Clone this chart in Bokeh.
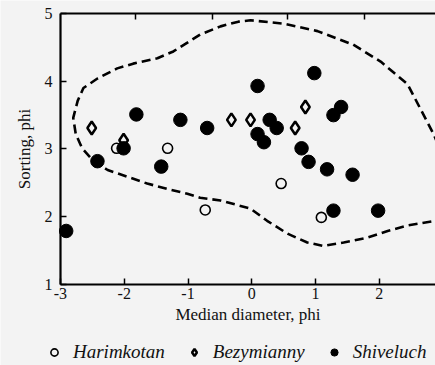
from bokeh.plotting import figure
from bokeh.models import Range1d, FixedTicker, LinearAxis, Legend, LegendItem
from bokeh.embed import file_html
from bokeh.resources import INLINE

# Harimkotan (open circles)
har_x = [-2.12, -1.32, -0.73, 0.46, 1.09]
har_y = [3.01, 3.01, 2.10, 2.49, 1.99]
# Bezymianny (diamonds)
bez_x = [-2.51, -2.01, -0.32, -0.02, 0.68, 0.84]
bez_y = [3.31, 3.13, 3.43, 3.43, 3.31, 3.62]
# Shiveluch (filled circles)
shi_x = [-2.91, -2.42, -2.01, -1.81, -1.42, -1.12, -0.70, 0.09, 0.98, 0.28, 0.39,
         0.09, 0.19, 1.40, 1.28, 0.78, 0.89, 1.18, 1.58, 1.28, 1.98]
shi_y = [1.79, 2.82, 3.01, 3.51, 2.74, 3.43, 3.31, 3.93, 4.12, 3.43, 3.31,
         3.22, 3.10, 3.62, 3.50, 3.01, 2.81, 2.70, 2.62, 2.09, 2.09]
# dashed envelope
env_x = [3.03, 2.88, 2.44, 2.13, 1.81, 1.44, 1.12, 0.87, 0.56, 0.24, -0.02, -0.49, -0.81,
         -1.01, -1.32, -1.64, -1.95, -2.26, -2.48, -2.66, -2.76, -2.80, -2.73, -2.64,
         -2.42, -2.11, -1.86, -1.48, -1.23, -0.81, -0.49, -0.21, -0.02, 0.50, 1.03,
         1.59, 2.02, 2.44, 2.85, 3.03]
env_y = [1.97, 1.94, 1.87, 1.79, 1.69, 1.62, 1.57, 1.62, 1.75, 1.94, 2.12, 2.24, 2.28,
         2.34, 2.41, 2.49, 2.59, 2.69, 2.82, 3.01, 3.22, 3.46, 3.71, 3.90,
         4.04, 4.19, 4.26, 4.34, 4.44, 4.69, 4.81, 4.88, 4.90, 4.85, 4.74,
         4.54, 4.29, 3.96, 3.22, 2.82]

x_ticks = [-3, -2, -1, 0, 1, 2]
x_tick_labels = ["-3", "-2", "-1", "0", "1", "2"]
y_ticks = [1, 2, 3, 4, 5]
top_ticks = [-1.82, -0.62, 0.56, 1.76]

X_MIN, X_MAX = -3, 2.88
Y_MIN, Y_MAX = 1, 5

BG = "#f3f3f3"
FONT = "Liberation Serif"

# the frame fills the figure; the axes sit at fixed data locations
p = figure(width=435, height=365, x_range=Range1d(-3.94, X_MAX), y_range=Range1d(-0.196, 5.192),
           output_backend="svg", toolbar_location=None,
           x_axis_label="Median diameter, phi", y_axis_label="Sorting, phi",
           min_border_left=0, min_border_top=0, min_border_right=0, min_border_bottom=0)
p.background_fill_color = BG
p.border_fill_color = BG
p.outline_line_color = None
p.grid.visible = False

xa, ya = p.xaxis[0], p.yaxis[0]
xa.fixed_location = Y_MIN
xa.bounds = (X_MIN, X_MAX)
ya.fixed_location = X_MIN
ya.bounds = (Y_MIN, Y_MAX)
for ax, ticks in ((xa, x_ticks), (ya, y_ticks)):
    ax.ticker = FixedTicker(ticks=ticks)
    ax.minor_tick_line_color = None
    ax.major_tick_in = 6
    ax.major_tick_out = 0
    ax.major_tick_line_width = 1.5
    ax.axis_line_width = 2.2
    ax.axis_line_color = "black"
    ax.major_label_text_font = FONT
    ax.major_label_text_font_size = "16px"
    ax.major_label_text_color = "#111111"
    ax.axis_label_text_font = FONT
    ax.axis_label_text_font_size = "17px"
    ax.axis_label_text_font_style = "normal"
    ax.axis_label_text_color = "#111111"
xa.major_label_overrides = dict(zip(x_ticks, x_tick_labels))
xa.major_label_standoff = 4
xa.axis_label_standoff = 2
ya.major_label_standoff = 8
ya.axis_label_standoff = 8

top = LinearAxis(ticker=FixedTicker(ticks=top_ticks), major_label_text_color=None,
                 fixed_location=Y_MAX, bounds=(X_MIN, X_MAX),
                 major_tick_in=6, major_tick_out=0, minor_tick_line_color=None,
                 axis_line_width=2, major_tick_line_width=1.5)
p.add_layout(top, "above")

p.line(env_x, env_y, line_color="black", line_width=2.6, line_dash="9 5")

r_har = p.scatter(har_x, har_y, marker="circle", size=10, fill_color=BG,
                  line_color="black", line_width=1.6)
r_bez = p.scatter(bez_x, bez_y, marker="diamond", size=13, fill_color=BG,
                  line_color="black", line_width=2.5)
r_shi = p.scatter(shi_x, shi_y, marker="circle", size=13.5, fill_color="black",
                  line_color="black")

legend = Legend(items=[LegendItem(label="Harimkotan", renderers=[r_har]),
                       LegendItem(label="Bezymianny", renderers=[r_bez]),
                       LegendItem(label="Shiveluch", renderers=[r_shi])],
                orientation="horizontal", location=(45, 2),
                label_text_font=FONT, label_text_font_style="italic",
                label_text_font_size="19px", label_text_color="#111111",
                glyph_width=18, label_standoff=10, spacing=20,
                padding=2, margin=0, border_line_color=None,
                background_fill_alpha=0)
p.add_layout(legend, "center")

open("out.html", "w").write(file_html(p, INLINE))
